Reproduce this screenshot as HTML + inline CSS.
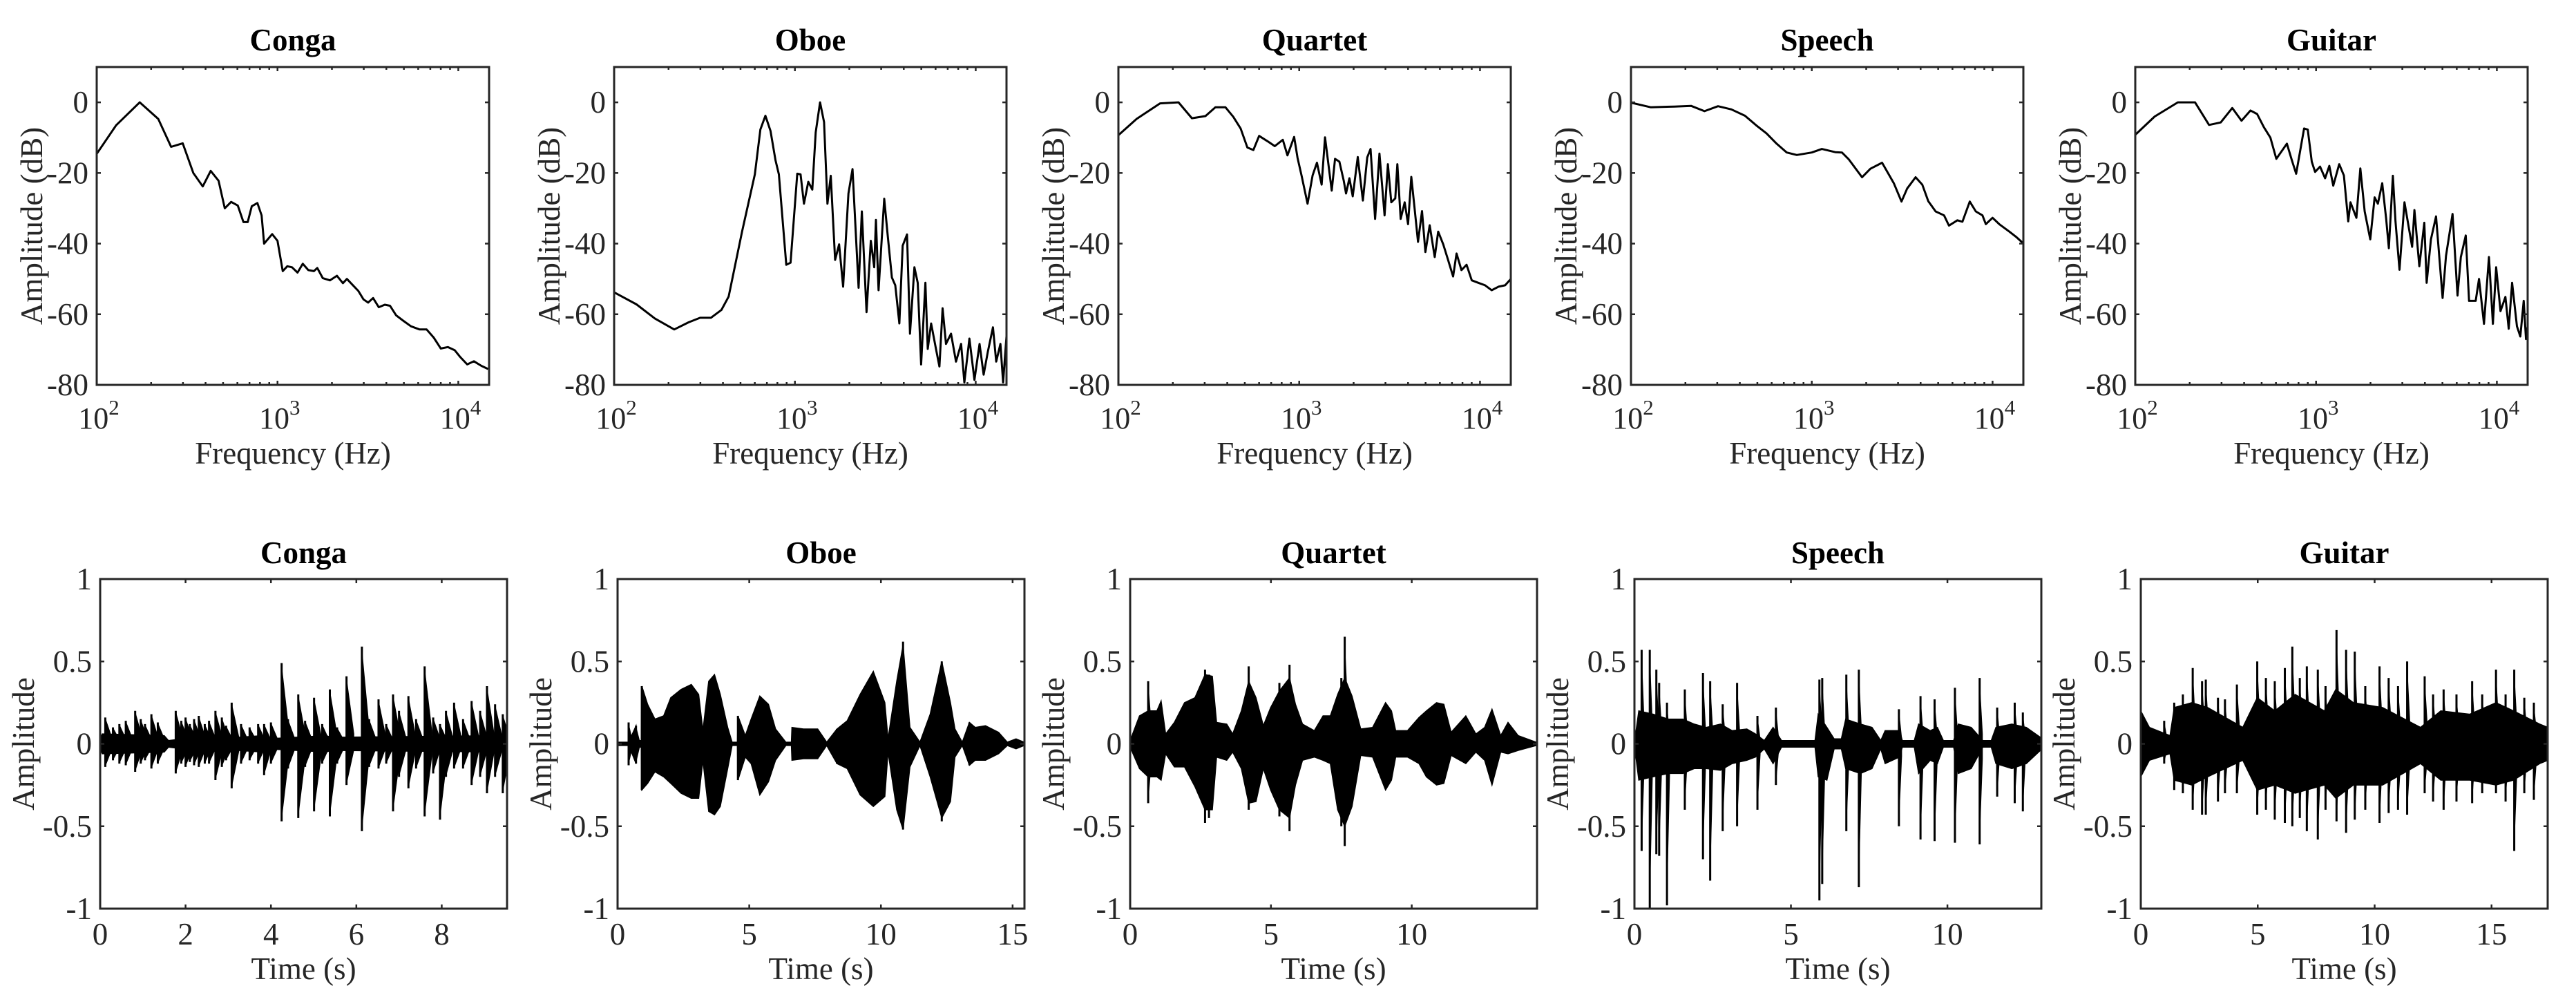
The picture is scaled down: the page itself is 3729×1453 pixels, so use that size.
<!DOCTYPE html>
<html><head><meta charset="utf-8"><style>
html,body{margin:0;padding:0;background:#fff;}
svg{display:block;font-family:"Liberation Serif","Times New Roman",serif;}
text{font-family:"Liberation Serif","Times New Roman",serif;}
</style></head><body>
<svg id="fig" width="3729" height="1453" viewBox="0 0 3729 1453" xmlns="http://www.w3.org/2000/svg"></svg>
<script>
// ---------- Spectrum data (Hz, dB) ----------
const congaFreq=[100,128,173,219,258,299,342,386,427,472,511,554,603,648,684,721,774,817,843,934,1000,1069,1133,1203,1290,1380,1480,1590,1660,1780,1950,2130,2300,2420,2800,2990,3170,3380,3630,3920,4190,4530,4950,5470,6110,6680,7310,8000,8750,9560,10200,11200,12200,13400,14600];
const congaDb=[-14.6,-6.5,0,-4.7,-12.6,-11.6,-20,-23.8,-19.4,-22.2,-30,-28.2,-29.2,-33.9,-33.9,-29.4,-28.5,-32,-40,-37.3,-39.2,-47.8,-46.4,-46.7,-48.2,-45.7,-47.5,-47.8,-46.9,-49.8,-50.4,-49.1,-51.2,-50,-53.4,-55.8,-56.7,-55.4,-58,-57.3,-57.6,-60.3,-61.8,-63.4,-64.3,-64.3,-66.6,-69.7,-69.3,-70.2,-72,-74.2,-73.3,-74.6,-75.5];
const oboeFreq=[100,133,168,215,258,299,343,392,430,510,600,644,687,733,781,815,896,946,1030,1075,1122,1186,1248,1303,1377,1449,1513,1579,1668,1755,1847,1978,2083,2250,2346,2490,2630,2745,2805,2902,3120,3255,3440,3590,3780,3945,4170,4330,4580,4780,4990,5270,5430,5670,6030,6300,6560,6850,7300,7780,8300,8650,9230,9840,10500,11060,11670,12460,12980,13700,14180,14800];
const oboeDb=[-53.8,-57.2,-61.2,-64.3,-62.3,-61,-61,-58.8,-55,-36.6,-20.4,-7.7,-3.8,-8.1,-16.4,-20.4,-46,-45.4,-20.2,-20.4,-28.7,-22.5,-24.7,-8.5,0,-5.6,-28.7,-20.8,-44.6,-40.2,-52.2,-25.8,-18.9,-52.5,-30.9,-59.4,-39.2,-46.7,-33.3,-53.2,-27.3,-37.4,-49.6,-51.8,-62.6,-40.6,-37.4,-65.5,-46.7,-51.1,-74.2,-51.1,-69.8,-62.6,-69.8,-74.8,-58.3,-68.4,-65.5,-73.4,-68.4,-79.3,-66.9,-78.6,-68.4,-77.1,-70.6,-63.7,-73.4,-68.4,-79.3,-66.2];
const quartetFreq=[100,126,170,215,255,303,344,391,432,474,517,558,600,667,733,812,861,938,979,1030,1112,1186,1254,1331,1389,1513,1579,1668,1763,1816,1896,1978,2108,2250,2378,2480,2630,2780,2965,3095,3230,3400,3490,3640,3830,4000,4170,4350,4540,4780,4990,5270,5620,5870,6260,6660,7100,7420,7900,8430,9000,9790,10670,11610,12650,13770,14800];
const quartetDb=[-9.3,-4.7,-0.3,0,-4.5,-3.9,-1.4,-1.4,-4.1,-7.4,-12.8,-13.5,-9.5,-11,-12.4,-10.6,-15,-9.8,-15.7,-20.7,-28.7,-20.7,-17.1,-23.3,-9.9,-25,-16,-16.8,-22.2,-25.8,-21.5,-26.6,-15.5,-27.8,-15.6,-13.2,-33,-14.5,-32,-17.5,-28.3,-27.2,-17.5,-33,-28.3,-34.5,-21.1,-30.1,-39.5,-30.8,-42.4,-34.8,-43.8,-36.6,-40.2,-44.6,-49.3,-42.8,-47.5,-46,-50.4,-51.1,-51.8,-53.2,-52.2,-51.8,-50];
const speechFreq=[100,129,174,215,255,303,359,427,495,562,639,727,826,1000,1137,1349,1469,1600,1897,2110,2448,2843,3136,3370,3750,4085,4410,4840,5390,5740,6390,6810,7480,8080,8790,9180,10000,10890,12380,13490,14760];
const speechDb=[-0.1,-1.4,-1.2,-1,-2.5,-1.1,-2,-3.8,-6.6,-8.8,-11.7,-14.2,-14.9,-14.2,-13.2,-14.1,-14.2,-16.1,-21.2,-18.8,-17.1,-22.9,-28.1,-24.4,-21.2,-23.3,-28,-30.9,-32,-34.9,-33.4,-33.8,-28.1,-30.9,-32,-34.5,-32.7,-34.5,-36.6,-38.1,-39.9];
const guitarFreq=[100,128,172,214,256,297,344,387,434,472,514,559,603,690,735,776,859,900,947,988,1052,1122,1184,1245,1343,1425,1506,1550,1672,1758,1858,1995,2108,2198,2322,2443,2528,2660,2750,2893,3083,3258,3398,3500,3726,3970,4090,4320,4610,5010,5230,5690,6060,6320,6730,7020,7640,7970,8490,9040,9510,9910,10470,11150,11630,12140,12910,13480,14070,14490,14860];
const guitarDb=[-9.2,-4,0,0,-6.4,-5.7,-1.6,-5.2,-2.3,-3.3,-7,-10,-16,-11.7,-16.4,-20.2,-7.4,-7.7,-16.8,-19.7,-18.2,-21.5,-18,-23.6,-17.5,-20.7,-33.7,-28.3,-32.7,-18.7,-30.9,-38.8,-26.9,-28.7,-22.9,-33,-41.3,-20.8,-33.7,-47.4,-28.3,-35.5,-40.9,-30.5,-46.4,-34.1,-51.1,-38.8,-32.3,-55.4,-43.5,-31.6,-54.7,-43.8,-37.7,-56.2,-56.2,-50,-62.7,-43.8,-62.7,-46.7,-59.1,-55.1,-64.1,-51.1,-63.4,-66.3,-56.2,-67,-62.7];
const specYTicks=[0,-20,-40,-60,-80];
const specXTickExp=[2,3,4];

// ---------- Waveform data (s, amplitude) ----------
const congaEnvT=[0,0.05,1.5,1.6,2.6,2.7,3.8,3.9,5.3,5.4,9.53];
const congaEnvHi=[0.03,0.06,0.05,0.02,0.05,0.03,0.05,0.03,0.05,0.04,0.05];
const congaEnvLo=[-0.03,-0.06,-0.05,-0.02,-0.05,-0.03,-0.05,-0.03,-0.05,-0.04,-0.05];
const congaSpikeT=[0.12,0.3,0.45,0.6,0.82,0.95,1.05,1.2,1.35,1.77,1.9,2.0,2.1,2.2,2.31,2.45,2.55,2.7,2.85,2.95,3.08,3.3,3.5,3.7,3.84,4.0,4.25,4.4,4.64,4.8,5.01,5.2,5.38,5.55,5.77,6.13,6.3,6.52,6.7,6.86,7.0,7.22,7.4,7.6,7.8,7.96,8.1,8.29,8.5,8.7,8.9,9.06,9.25,9.43];
const congaSpikeHi=[0.16,0.1,0.12,0.14,0.2,0.15,0.12,0.18,0.13,0.2,0.14,0.16,0.12,0.15,0.17,0.12,0.14,0.2,0.16,0.11,0.25,0.12,0.1,0.12,0.12,0.13,0.49,0.15,0.3,0.14,0.28,0.12,0.33,0.1,0.41,0.59,0.15,0.27,0.12,0.3,0.2,0.29,0.15,0.47,0.16,0.12,0.2,0.25,0.15,0.26,0.2,0.35,0.24,0.18];
const congaSpikeLo=[-0.14,-0.1,-0.12,-0.13,-0.17,-0.12,-0.1,-0.15,-0.12,-0.18,-0.12,-0.14,-0.11,-0.13,-0.14,-0.12,-0.12,-0.22,-0.14,-0.1,-0.27,-0.12,-0.1,-0.12,-0.19,-0.12,-0.47,-0.15,-0.45,-0.14,-0.41,-0.12,-0.44,-0.12,-0.25,-0.53,-0.14,-0.15,-0.12,-0.41,-0.2,-0.27,-0.15,-0.44,-0.18,-0.46,-0.2,-0.15,-0.15,-0.25,-0.2,-0.3,-0.2,-0.3];

const oboeEnvT=[0,0.4,0.42,0.45,0.7,0.75,0.9,0.92,1.14,1.42,1.75,2.02,2.41,2.8,3.08,3.24,3.46,3.68,3.9,4.18,4.35,4.55,4.57,4.85,5.07,5.4,5.73,6.0,6.39,6.6,6.62,7.06,7.6,7.94,8.33,8.72,9.21,9.71,10.15,10.27,10.6,10.84,11.1,11.48,11.87,12.31,12.64,12.81,13.09,13.36,13.58,13.97,14.47,14.8,15.13,15.44];
const oboeEnvHi=[0.01,0.01,0.13,0.02,0.11,0.02,0.02,0.35,0.24,0.15,0.17,0.28,0.33,0.36,0.3,0.08,0.38,0.42,0.3,0.1,0.01,0.01,0.17,0.05,0.15,0.29,0.24,0.09,0.01,0.01,0.1,0.09,0.09,0.01,0.09,0.14,0.3,0.44,0.25,0.03,0.38,0.6,0.1,0.01,0.18,0.5,0.25,0.09,0.01,0.13,0.1,0.11,0.07,0.01,0.03,0.01];
const oboeEnvLo=[-0.01,-0.01,-0.13,-0.02,-0.12,-0.02,-0.02,-0.28,-0.24,-0.17,-0.2,-0.24,-0.3,-0.33,-0.33,-0.1,-0.41,-0.43,-0.38,-0.15,-0.01,-0.01,-0.22,-0.08,-0.12,-0.31,-0.23,-0.1,-0.01,-0.01,-0.1,-0.09,-0.09,-0.01,-0.12,-0.15,-0.31,-0.38,-0.32,-0.05,-0.4,-0.52,-0.14,-0.01,-0.2,-0.45,-0.35,-0.08,-0.01,-0.13,-0.1,-0.1,-0.06,-0.01,-0.03,-0.01];
const oboeSpikeT=[0.42,0.7,0.92,4.57,8.33,10.84,12.31,13.36];
const oboeSpikeHi=[0.13,0.11,0.35,0.17,0.09,0.62,0.5,0.13];
const oboeSpikeLo=[-0.13,-0.12,-0.28,-0.22,-0.12,-0.52,-0.47,-0.13];

const quartetEnvT=[0,0.33,0.64,0.95,1.1,1.26,1.57,1.93,2.3,2.66,2.92,3.07,3.43,3.64,3.95,4.21,4.47,4.73,4.99,5.3,5.66,5.87,6.12,6.54,6.85,7.11,7.37,7.62,7.88,8.19,8.61,9.07,9.28,9.43,9.85,10.26,10.52,10.88,11.14,11.4,11.92,12.28,12.59,12.85,13.16,13.42,13.78,14.42];
const quartetEnvHi=[0.02,0.17,0.2,0.2,0.26,0.06,0.13,0.25,0.28,0.42,0.41,0.13,0.12,0.06,0.2,0.38,0.28,0.11,0.22,0.32,0.4,0.24,0.12,0.08,0.17,0.17,0.3,0.4,0.29,0.09,0.1,0.25,0.2,0.08,0.08,0.16,0.2,0.25,0.24,0.07,0.17,0.06,0.1,0.21,0.05,0.13,0.05,0.01];
const quartetEnvLo=[-0.02,-0.15,-0.2,-0.2,-0.22,-0.06,-0.14,-0.14,-0.26,-0.4,-0.4,-0.08,-0.1,-0.05,-0.15,-0.36,-0.35,-0.15,-0.28,-0.4,-0.45,-0.25,-0.1,-0.08,-0.1,-0.12,-0.4,-0.5,-0.38,-0.07,-0.08,-0.28,-0.22,-0.08,-0.08,-0.12,-0.2,-0.25,-0.24,-0.07,-0.12,-0.05,-0.1,-0.25,-0.05,-0.06,-0.04,-0.01];
const quartetSpikeT=[0.64,2.66,2.8,4.21,5.3,5.66,7.62,7.5];
const quartetSpikeHi=[0.38,0.45,0.42,0.47,0.37,0.48,0.65,0.4];
const quartetSpikeLo=[-0.36,-0.48,-0.45,-0.4,-0.44,-0.53,-0.62,-0.5];

const speechEnvT=[0,0.14,0.6,1.08,1.55,1.91,2.29,2.75,3.12,3.59,3.87,4.15,4.43,4.7,5.77,5.87,6.15,6.38,6.61,6.75,7.22,7.59,7.87,8.01,8.47,8.56,8.94,9.08,9.45,9.68,9.87,10.2,10.35,10.76,11.13,11.4,11.55,12.06,12.52,12.97];
const speechEnvHi=[0.01,0.2,0.18,0.15,0.15,0.12,0.1,0.12,0.08,0.09,0.06,0.02,0.1,0.02,0.02,0.18,0.1,0.03,0.03,0.15,0.12,0.1,0.02,0.08,0.08,0.02,0.02,0.12,0.08,0.1,0.02,0.02,0.12,0.1,0.02,0.02,0.1,0.12,0.1,0.04];
const speechEnvLo=[-0.01,-0.22,-0.2,-0.18,-0.18,-0.15,-0.15,-0.16,-0.12,-0.1,-0.08,-0.03,-0.12,-0.02,-0.02,-0.2,-0.22,-0.03,-0.03,-0.15,-0.18,-0.15,-0.03,-0.12,-0.08,-0.02,-0.02,-0.18,-0.1,-0.12,-0.02,-0.02,-0.18,-0.15,-0.02,-0.02,-0.12,-0.15,-0.12,-0.04];
const speechSpikeT=[0.23,0.49,0.7,0.79,1.04,1.61,2.19,2.42,2.82,3.28,3.93,4.52,5.91,6.0,6.77,7.17,8.45,9.14,9.59,10.24,11.03,11.59,12.15,12.41];
const speechSpikeHi=[0.57,0.57,0.45,0.37,0.25,0.33,0.43,0.38,0.24,0.37,0.17,0.22,0.39,0.4,0.42,0.45,0.21,0.29,0.27,0.34,0.4,0.22,0.25,0.19];
const speechSpikeLo=[-0.65,-1.0,-0.67,-0.68,-0.98,-0.4,-0.7,-0.83,-0.53,-0.5,-0.4,-0.25,-0.95,-0.85,-0.53,-0.87,-0.5,-0.58,-0.59,-0.6,-0.61,-0.32,-0.36,-0.41];

const guitarEnvT=[0,0.37,1.25,1.43,2.18,2.86,4.36,4.98,5.73,6.6,7.85,8.34,9.09,10.34,11.96,12.83,14.07,15.19,15.94,17.06,17.41];
const guitarEnvHi=[0.2,0.1,0.05,0.22,0.25,0.22,0.1,0.28,0.2,0.3,0.2,0.33,0.25,0.22,0.1,0.2,0.18,0.25,0.2,0.12,0.1];
const guitarEnvLo=[-0.2,-0.1,-0.06,-0.22,-0.25,-0.2,-0.1,-0.28,-0.25,-0.3,-0.25,-0.33,-0.25,-0.25,-0.12,-0.22,-0.22,-0.25,-0.22,-0.12,-0.1];
const guitarSpikeT=[1.0,1.43,1.8,2.22,2.62,2.78,3.3,3.6,4.11,4.98,5.35,5.73,6.16,6.48,6.8,7.1,7.57,7.9,8.37,8.78,9.15,9.6,10.21,10.6,11.0,11.39,12.14,12.5,12.95,13.5,14.17,14.6,15.19,15.6,15.97,16.4,16.81];
const guitarSpikeHi=[0.14,0.25,0.3,0.46,0.38,0.39,0.28,0.27,0.36,0.5,0.4,0.38,0.46,0.59,0.4,0.47,0.45,0.35,0.69,0.57,0.56,0.35,0.47,0.4,0.35,0.5,0.41,0.3,0.33,0.3,0.38,0.3,0.45,0.3,0.45,0.28,0.25];
const guitarSpikeLo=[-0.12,-0.28,-0.3,-0.4,-0.43,-0.43,-0.35,-0.3,-0.3,-0.43,-0.4,-0.46,-0.48,-0.5,-0.45,-0.53,-0.58,-0.4,-0.47,-0.54,-0.46,-0.4,-0.48,-0.42,-0.4,-0.43,-0.3,-0.35,-0.4,-0.35,-0.36,-0.3,-0.3,-0.35,-0.65,-0.3,-0.34];

const waveYTicks=[1,0.5,0,-0.5,-1];
const waveYTickLabels=["1","0.5","0","-0.5","-1"];
const congaXTicks=[0,2,4,6,8];
const oboeXTicks=[0,5,10,15];
const quartetXTicks=[0,5,10];
const speechXTicks=[0,5,10];
const guitarXTicks=[0,5,10,15];
const waveDur=[9.53,15.45,14.45,13.0,17.4];

// ---------- layout ----------
const NS="http://www.w3.org/2000/svg";
const svg=document.getElementById('fig');
const AX="#262626";
const FONT='"Liberation Serif","Times New Roman",serif';
function mk(tag,parent){const e=document.createElementNS(NS,tag);parent.appendChild(e);return e;}

const names=["Conga","Oboe","Quartet","Speech","Guitar"];
const keys=["conga","oboe","quartet","speech","guitar"];
const specF=[congaFreq,oboeFreq,quartetFreq,speechFreq,guitarFreq];
const specD=[congaDb,oboeDb,quartetDb,speechDb,guitarDb];
const topLeft=[140,889,1619,2361,3091], topW=568, topY0=97, topY1=557;
const botLeft=[145,894,1636,2366,3099], botW=589, botY0=838, botY1=1315;
const XMAXLOG=Math.log10(14800);
const waveData=[
 [congaEnvT,congaEnvHi,congaEnvLo,congaSpikeT,congaSpikeHi,congaSpikeLo,congaXTicks],
 [oboeEnvT,oboeEnvHi,oboeEnvLo,oboeSpikeT,oboeSpikeHi,oboeSpikeLo,oboeXTicks],
 [quartetEnvT,quartetEnvHi,quartetEnvLo,quartetSpikeT,quartetSpikeHi,quartetSpikeLo,quartetXTicks],
 [speechEnvT,speechEnvHi,speechEnvLo,speechSpikeT,speechSpikeHi,speechSpikeLo,speechXTicks],
 [guitarEnvT,guitarEnvHi,guitarEnvLo,guitarSpikeT,guitarSpikeHi,guitarSpikeLo,guitarXTicks]];

function text(parent,x,y,str,size,anchor,bold){
  const t=mk('text',parent);
  t.setAttribute('x',x);t.setAttribute('y',y);
  t.setAttribute('font-family',FONT);
  t.setAttribute('font-size',size);t.setAttribute('fill',bold?'#000':AX);
  t.setAttribute('text-anchor',anchor);
  if(bold)t.setAttribute('font-weight','bold');
  t.textContent=str;return t;
}
function tickLine(parent,x1,y1,x2,y2){
  const l=mk('line',parent);
  l.setAttribute('x1',x1);l.setAttribute('y1',y1);l.setAttribute('x2',x2);l.setAttribute('y2',y2);
  l.setAttribute('stroke',AX);l.setAttribute('stroke-width',2.5);
  return l;
}

// ---------- spectra ----------
for(let i=0;i<5;i++){
  const g=mk('g',svg);
  
  
  const L=topLeft[i],R=L+topW;
  const xs=f=>L+(Math.log10(f)-2)/(XMAXLOG-2)*topW;
  const ys=d=>topY1-(d+80)/90*(topY1-topY0);
  const clipId='sc'+i;
  const cp=mk('clipPath',g);cp.setAttribute('id',clipId);
  const cr=mk('rect',cp);cr.setAttribute('x',L);cr.setAttribute('y',topY0);cr.setAttribute('width',topW);cr.setAttribute('height',topY1-topY0);
  const p=mk('polyline',g);
  
  
  p.setAttribute('points',specF[i].map((f,j)=>xs(f).toFixed(1)+','+ys(specD[i][j]).toFixed(1)).join(' '));
  p.setAttribute('fill','none');p.setAttribute('stroke','#000');p.setAttribute('stroke-width',3);p.setAttribute('stroke-linejoin','round');
  p.setAttribute('clip-path','url(#'+clipId+')');
  const b=mk('rect',g);
  
  
  b.setAttribute('x',L);b.setAttribute('y',topY0);b.setAttribute('width',topW);b.setAttribute('height',topY1-topY0);
  b.setAttribute('fill','none');b.setAttribute('stroke',AX);b.setAttribute('stroke-width',3);
  specYTicks.forEach(v=>{
    const y=ys(v);
    tickLine(g,L,y,L+6,y);tickLine(g,R,y,R-6,y);
    const t=text(g,L-12,y+15,String(v),45,'end',false);
    
    
  });
  for(let d=2;d<=4;d++){
    for(let m=1;m<=9;m++){
      const f=m*Math.pow(10,d);
      if(Math.log10(f)>XMAXLOG)break;
      const x=xs(f),len=(m===1)?6:4;
      tickLine(g,x,topY1,x,topY1-len);tickLine(g,x,topY0,x,topY0+len);
    }
  }
  specXTickExp.forEach(e=>{
    const x=xs(Math.pow(10,e));
    const t=mk('text',g);
    
    
    t.setAttribute('font-family',FONT);
    t.setAttribute('x',x+3);t.setAttribute('y',620);t.setAttribute('font-size',44);t.setAttribute('fill',AX);t.setAttribute('text-anchor','middle');
    const a=mk('tspan',t);a.textContent='10';
    const s=mk('tspan',t);s.setAttribute('font-size',31);s.setAttribute('dy',-20);s.textContent=String(e);
  });
  const ti=text(g,L+topW/2,73,names[i],45,'middle',true);
  
  
  const xl=text(g,L+topW/2,671,'Frequency (Hz)',45,'middle',false);
  
  
  const yl=text(g,0,0,'Amplitude (dB)',45,'middle',false);
  yl.setAttribute('transform','translate('+(L-79)+','+((topY0+topY1)/2)+') rotate(-90)');
  
  
}

// ---------- waveforms ----------
for(let i=0;i<5;i++){
  const g=mk('g',svg);
  
  
  const L=botLeft[i],R=L+botW,dur=waveDur[i];
  const xs=t=>L+t/dur*botW;
  const ys=a=>botY1-(a+1)/2*(botY1-botY0);
  const [eT,eH,eL,sT,sH,sL,xt]=waveData[i];
  const clipId='wc'+i;
  const cp=mk('clipPath',g);cp.setAttribute('id',clipId);
  const cr=mk('rect',cp);cr.setAttribute('x',L);cr.setAttribute('y',botY0);cr.setAttribute('width',botW);cr.setAttribute('height',botY1-botY0);
  const wg=mk('g',g);wg.setAttribute('clip-path','url(#'+clipId+')');
  
  
  const zl=mk('line',wg);zl.setAttribute('x1',L);zl.setAttribute('x2',R);zl.setAttribute('y1',ys(0));zl.setAttribute('y2',ys(0));zl.setAttribute('stroke','#000');zl.setAttribute('stroke-width',3);
  const env=mk('polygon',wg);
  
  
  const pts=[];
  eT.forEach((t,j)=>pts.push(xs(t).toFixed(1)+','+ys(eH[j]).toFixed(1)));
  for(let j=eT.length-1;j>=0;j--)pts.push(xs(eT[j]).toFixed(1)+','+ys(eL[j]).toFixed(1));
  env.setAttribute('points',pts.join(' '));env.setAttribute('fill','#000');env.setAttribute('stroke','#000');env.setAttribute('stroke-width',1.5);
  const dec=i===0?0.18:(i===3?0.1:0.15);
  sT.forEach((t,j)=>{
    const x=xs(t),x2=xs(t+dec);
    const tri=mk('polygon',wg);
    
    
    tri.setAttribute('points',[x+','+ys(sH[j]),x2+','+ys(sH[j]*0.15),x2+','+ys(sL[j]*0.15),x+','+ys(sL[j])].join(' '));
    tri.setAttribute('fill','#000');
    const ln=mk('line',wg);
    
    
    ln.setAttribute('x1',x);ln.setAttribute('x2',x);ln.setAttribute('y1',ys(sH[j]));ln.setAttribute('y2',ys(sL[j]));
    ln.setAttribute('stroke','#000');ln.setAttribute('stroke-width',3);
  });
  const b=mk('rect',g);
  
  
  b.setAttribute('x',L);b.setAttribute('y',botY0);b.setAttribute('width',botW);b.setAttribute('height',botY1-botY0);
  b.setAttribute('fill','none');b.setAttribute('stroke',AX);b.setAttribute('stroke-width',3);
  waveYTicks.forEach((v,k)=>{
    const y=ys(v);
    tickLine(g,L,y,L+6,y);tickLine(g,R,y,R-6,y);
    const t=text(g,L-12,y+15,waveYTickLabels[k],45,'end',false);
    
    
  });
  xt.forEach(v=>{
    const x=xs(v);
    tickLine(g,x,botY1,x,botY1-6);tickLine(g,x,botY0,x,botY0+6);
    const t=text(g,x,1367,String(v),45,'middle',false);
    
    
  });
  const ti=text(g,L+botW/2,815,names[i],45,'middle',true);
  
  
  const xl=text(g,L+botW/2,1417,'Time (s)',45,'middle',false);
  
  
  const yl=text(g,0,0,'Amplitude',45,'middle',false);
  yl.setAttribute('transform','translate('+(L-96)+','+((botY0+botY1)/2)+') rotate(-90)');
  
  
}
</script>
</body></html>
